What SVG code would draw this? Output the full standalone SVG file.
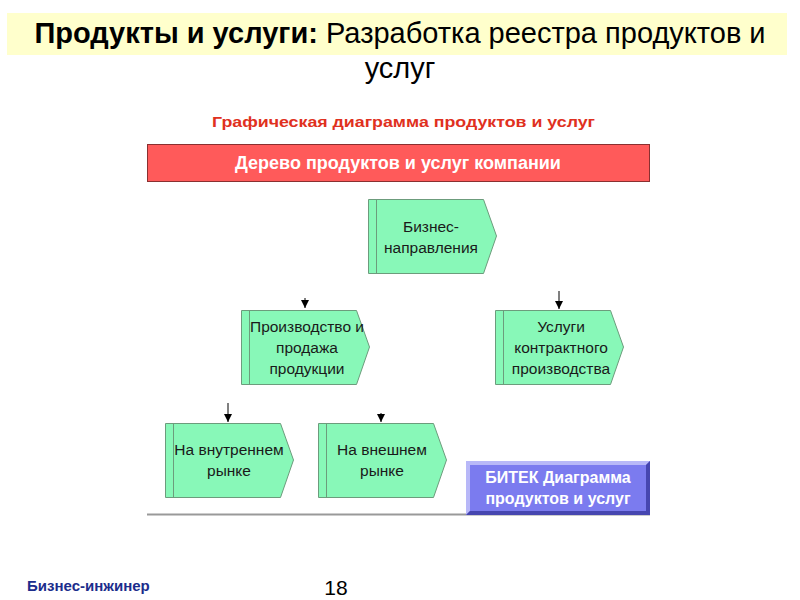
<svg xmlns="http://www.w3.org/2000/svg" width="800" height="600" viewBox="0 0 800 600">
<defs>
<style>
.t{font-family:"Liberation Sans",Arial,sans-serif;}
.node{fill:#88f8b8;stroke:#6c9c7c;stroke-width:1;}
.inner{stroke:#6c9c7c;stroke-width:1;fill:none;}
.lbl{font-family:"Liberation Sans",Arial,sans-serif;font-size:15.5px;fill:#1a1a1a;text-anchor:middle;}
.conn{stroke:#000;stroke-width:1;fill:none;}
</style>
<marker id="ah" viewBox="0 0 10 10" refX="10" refY="5" markerWidth="8" markerHeight="8" markerUnits="userSpaceOnUse" orient="auto">
<path d="M0,0 L10,5 L0,10 Z" fill="#000"/>
</marker>
</defs>
<rect width="800" height="600" fill="#fff"/>
<rect x="7" y="13" width="780" height="42" fill="#ffffcc"/>
<text class="t" x="400" y="43" font-size="29" text-anchor="middle" fill="#000"><tspan font-weight="bold">Продукты и услуги:</tspan> Разработка реестра продуктов и</text>
<text class="t" x="400" y="78" font-size="29" text-anchor="middle" fill="#000">услуг</text>
<text class="t" x="403.5" y="127" font-size="15" font-weight="bold" text-anchor="middle" fill="#e03020" textLength="383" lengthAdjust="spacingAndGlyphs">Графическая диаграмма продуктов и услуг</text>
<g id="banner">
<rect x="147.5" y="144.5" width="502" height="37" fill="#ff5a5a" stroke="#8a3030"/>
<text class="t" x="398" y="169" font-size="18" font-weight="bold" text-anchor="middle" fill="#fff">Дерево продуктов и услуг компании</text>
</g>
<g id="connectors">
<path class="conn" d="M305,298 L305,308" marker-end="url(#ah)"/>
<path class="conn" d="M559,291 L559,309" marker-end="url(#ah)"/>
<path class="conn" d="M228,403 L228,422" marker-end="url(#ah)"/>
<path class="conn" d="M381,413 L381,422" marker-end="url(#ah)"/>
</g>
<g id="n-biz">
<path class="node" d="M368.5,199.5 H483.5 L496.5,236 L483.5,273.5 H368.5 Z"/>
<line class="inner" x1="376.5" y1="199.5" x2="376.5" y2="273.5"/>
<text class="lbl"><tspan x="431" y="232">Бизнес-</tspan><tspan x="431" y="253">направления</tspan></text>
</g>
<g id="n-prod">
<path class="node" d="M241.5,310.5 H356.5 L369.5,347 L356.5,384.5 H241.5 Z"/>
<line class="inner" x1="249.5" y1="310.5" x2="249.5" y2="384.5"/>
<text class="lbl"><tspan x="307" y="332">Производство и</tspan><tspan x="307" y="353">продажа</tspan><tspan x="307" y="374">продукции</tspan></text>
</g>
<g id="n-usl">
<path class="node" d="M495.5,310.5 H610.5 L623.5,347 L610.5,384.5 H495.5 Z"/>
<line class="inner" x1="503.5" y1="310.5" x2="503.5" y2="384.5"/>
<text class="lbl"><tspan x="561" y="332">Услуги</tspan><tspan x="561" y="353">контрактного</tspan><tspan x="561" y="374">производства</tspan></text>
</g>
<g id="n-vnutr">
<path class="node" d="M165.5,423.5 H280.5 L293.5,460 L280.5,497.5 H165.5 Z"/>
<line class="inner" x1="173.5" y1="423.5" x2="173.5" y2="497.5"/>
<text class="lbl"><tspan x="229" y="455">На внутреннем</tspan><tspan x="229" y="476">рынке</tspan></text>
</g>
<g id="n-vnesh">
<path class="node" d="M318.5,423.5 H433.5 L446.5,460 L433.5,497.5 H318.5 Z"/>
<line class="inner" x1="326.5" y1="423.5" x2="326.5" y2="497.5"/>
<text class="lbl"><tspan x="382" y="455">На внешнем</tspan><tspan x="382" y="476">рынке</tspan></text>
</g>
<line x1="147" y1="514.5" x2="650" y2="514.5" stroke="#999" stroke-width="2"/>
<g id="bitek">
<rect x="466" y="461" width="184" height="54" fill="#7b7bef"/>
<path d="M466,461 H650 L646,465 H470 V511 L466,515 Z" fill="#b8b8f8"/>
<path d="M650,461 V515 H466 L470,511 H646 V465 Z" fill="#4646b0"/>
<text class="t" font-size="16" font-weight="bold" fill="#fff" text-anchor="middle"><tspan x="558" y="483">БИТЕК Диаграмма</tspan><tspan x="558" y="504">продуктов и услуг</tspan></text>
</g>
<text class="t" x="27" y="591" font-size="15" font-weight="bold" fill="#1c2d8c">Бизнес-инжинер</text>
<text class="t" x="336" y="595" font-size="21" fill="#000" text-anchor="middle">18</text>
</svg>
